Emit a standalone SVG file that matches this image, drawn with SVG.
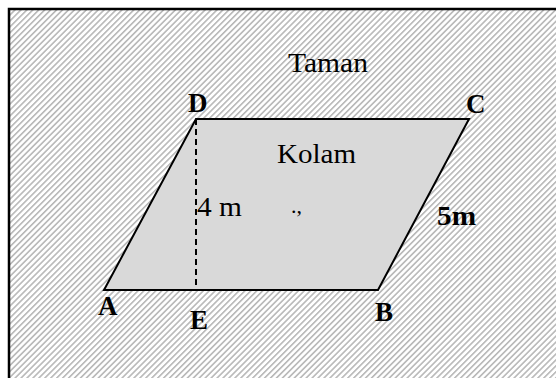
<svg xmlns="http://www.w3.org/2000/svg" width="556" height="378" viewBox="0 0 556 378">
<style>
text{font-family:"Liberation Serif","Times New Roman",serif;font-size:27px;fill:#000}
.b{font-weight:bold}
</style>
<defs>
<pattern id="hatch" width="4.2" height="10" patternUnits="userSpaceOnUse" patternTransform="rotate(45)">
<rect width="4.2" height="10" fill="#fff"/>
<rect width="1.6" height="10" fill="#b8b8b8"/>
</pattern>
</defs>
<rect width="556" height="378" fill="#fff"/>
<g id="taman">
<rect x="9" y="9" width="560" height="380" fill="url(#hatch)" stroke="#000" stroke-width="2.5"/>
<text x="288" y="72" textLength="80" lengthAdjust="spacingAndGlyphs">Taman</text>
</g>
<g id="kolam">
<polygon points="104,290 378,290 469,119 196,119" fill="#d9d9d9" stroke="#000" stroke-width="2"/>
<text x="277" y="163" textLength="79" lengthAdjust="spacingAndGlyphs">Kolam</text>
<text x="291" y="213" style="font-size:22px">.,</text>
</g>
<g id="connectors">
<line x1="196" y1="119" x2="196" y2="290" stroke="#000" stroke-width="2" stroke-dasharray="6,4"/>
<text x="197" y="216" textLength="45" lengthAdjust="spacingAndGlyphs">4 m</text>
<text x="437" y="225" class="b" textLength="39" lengthAdjust="spacingAndGlyphs">5m</text>
</g>
<g id="vertex-labels">
<text x="188" y="112" class="b">D</text>
<text x="466" y="113" class="b">C</text>
<text x="98" y="315" class="b">A</text>
<text x="190" y="329" class="b">E</text>
<text x="375" y="321" class="b">B</text>
</g>
</svg>
